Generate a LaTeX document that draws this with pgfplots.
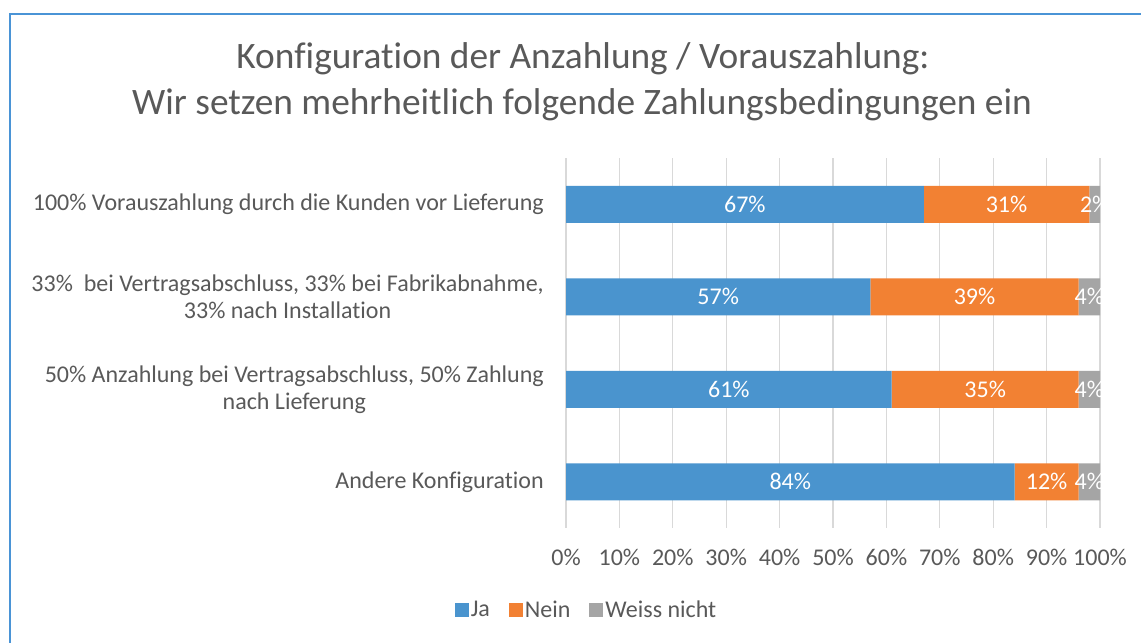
\documentclass[border=0pt]{standalone}
\usepackage{pgfplots}
\pgfplotsset{compat=1.18}
\usepackage{fontspec}
\setmainfont{Carlito}[Ligatures={NoCommon}]

\definecolor{ja}{HTML}{4A94CE}
\definecolor{nein}{HTML}{F28133}
\definecolor{wn}{HTML}{A5A5A5}
\definecolor{txt}{HTML}{595959}
\definecolor{rahmen}{HTML}{4A94D6}
\definecolor{gitter}{HTML}{D9D9D9}

\newcommand{\lab}{\fontsize{18}{20.25}\selectfont}

\begin{document}
\begin{tikzpicture}[x=0.75pt,y=0.75pt]
\useasboundingbox (0,0) rectangle (1141,642);
\fill[white] (0,0) rectangle (1141,642);
\draw[rahmen, line width=1.5pt] (9.5,-5) -- (9.5,627.5) -- (1150,627.5);

\node[anchor=base, text=txt, font=\fontsize{28}{32}\selectfont, inner sep=0pt]
  at (583,573) {Konfiguration der Anzahlung / Vorauszahlung:};
\node[anchor=base, text=txt, font=\fontsize{28}{32}\selectfont, inner sep=0pt]
  at (582,527) {Wir setzen mehrheitlich folgende Zahlungsbedingungen ein};

\begin{axis}[
    at={(424.5pt,85.5pt)}, anchor=south west,
    scale only axis,
    width=400.5pt, height=277.5pt,
    xbar stacked,
    bar width=27.75pt,
    xmin=0, xmax=100,
    ymin=-0.5, ymax=3.5,
    y dir=reverse,
    axis line style={draw=none},
    major tick length=0pt,
    xmajorgrids,
    grid style={gitter, line width=1pt},
    xtick={0,10,...,100},
    xticklabels={0\%,10\%,20\%,30\%,40\%,50\%,60\%,70\%,80\%,90\%,100\%},
    xticklabel style={font=\lab, text=txt, inner sep=0pt, yshift=-15.75pt},
    ytick={0,1,2,3},
    yticklabels={
        {100\% Vorauszahlung durch die Kunden vor Lieferung},
        {33\%~ bei Vertragsabschluss, 33\% bei Fabrikabnahme,\\33\% nach Installation},
        {50\% Anzahlung bei Vertragsabschluss, 50\% Zahlung\\nach Lieferung},
        {Andere Konfiguration}},
    yticklabel style={font=\lab, text=txt, align=center, inner sep=0pt, xshift=-16.5pt},
    /pgf/number format/assume math mode=true,
    visualization depends on=rawx \as \rawx,
    nodes near coords={\pgfmathprintnumber{\rawx}\%},
    every node near coord/.append style={anchor=center, text=white, font=\lab},
    legend style={at={(0.0384,-0.2216)}, anchor=center, draw=none, fill=none,
        font=\lab, text=txt, legend columns=-1,
        nodes={inner sep=1.5pt},
        /tikz/every even column/.append style={column sep=12.75pt}},
    legend image code/.code={\fill[#1] (0pt,-5.25pt) rectangle (10.5pt,5.25pt);},
]
\addplot[fill=ja, draw=none] coordinates {(67,0) (57,1) (61,2) (84,3)};
\addplot[fill=nein, draw=none] coordinates {(31,0) (39,1) (35,2) (12,3)};
\addplot[fill=wn, draw=none] coordinates {(2,0) (4,1) (4,2) (4,3)};
\legend{Ja,Nein,Weiss nicht}
\end{axis}
\end{tikzpicture}
\end{document}
